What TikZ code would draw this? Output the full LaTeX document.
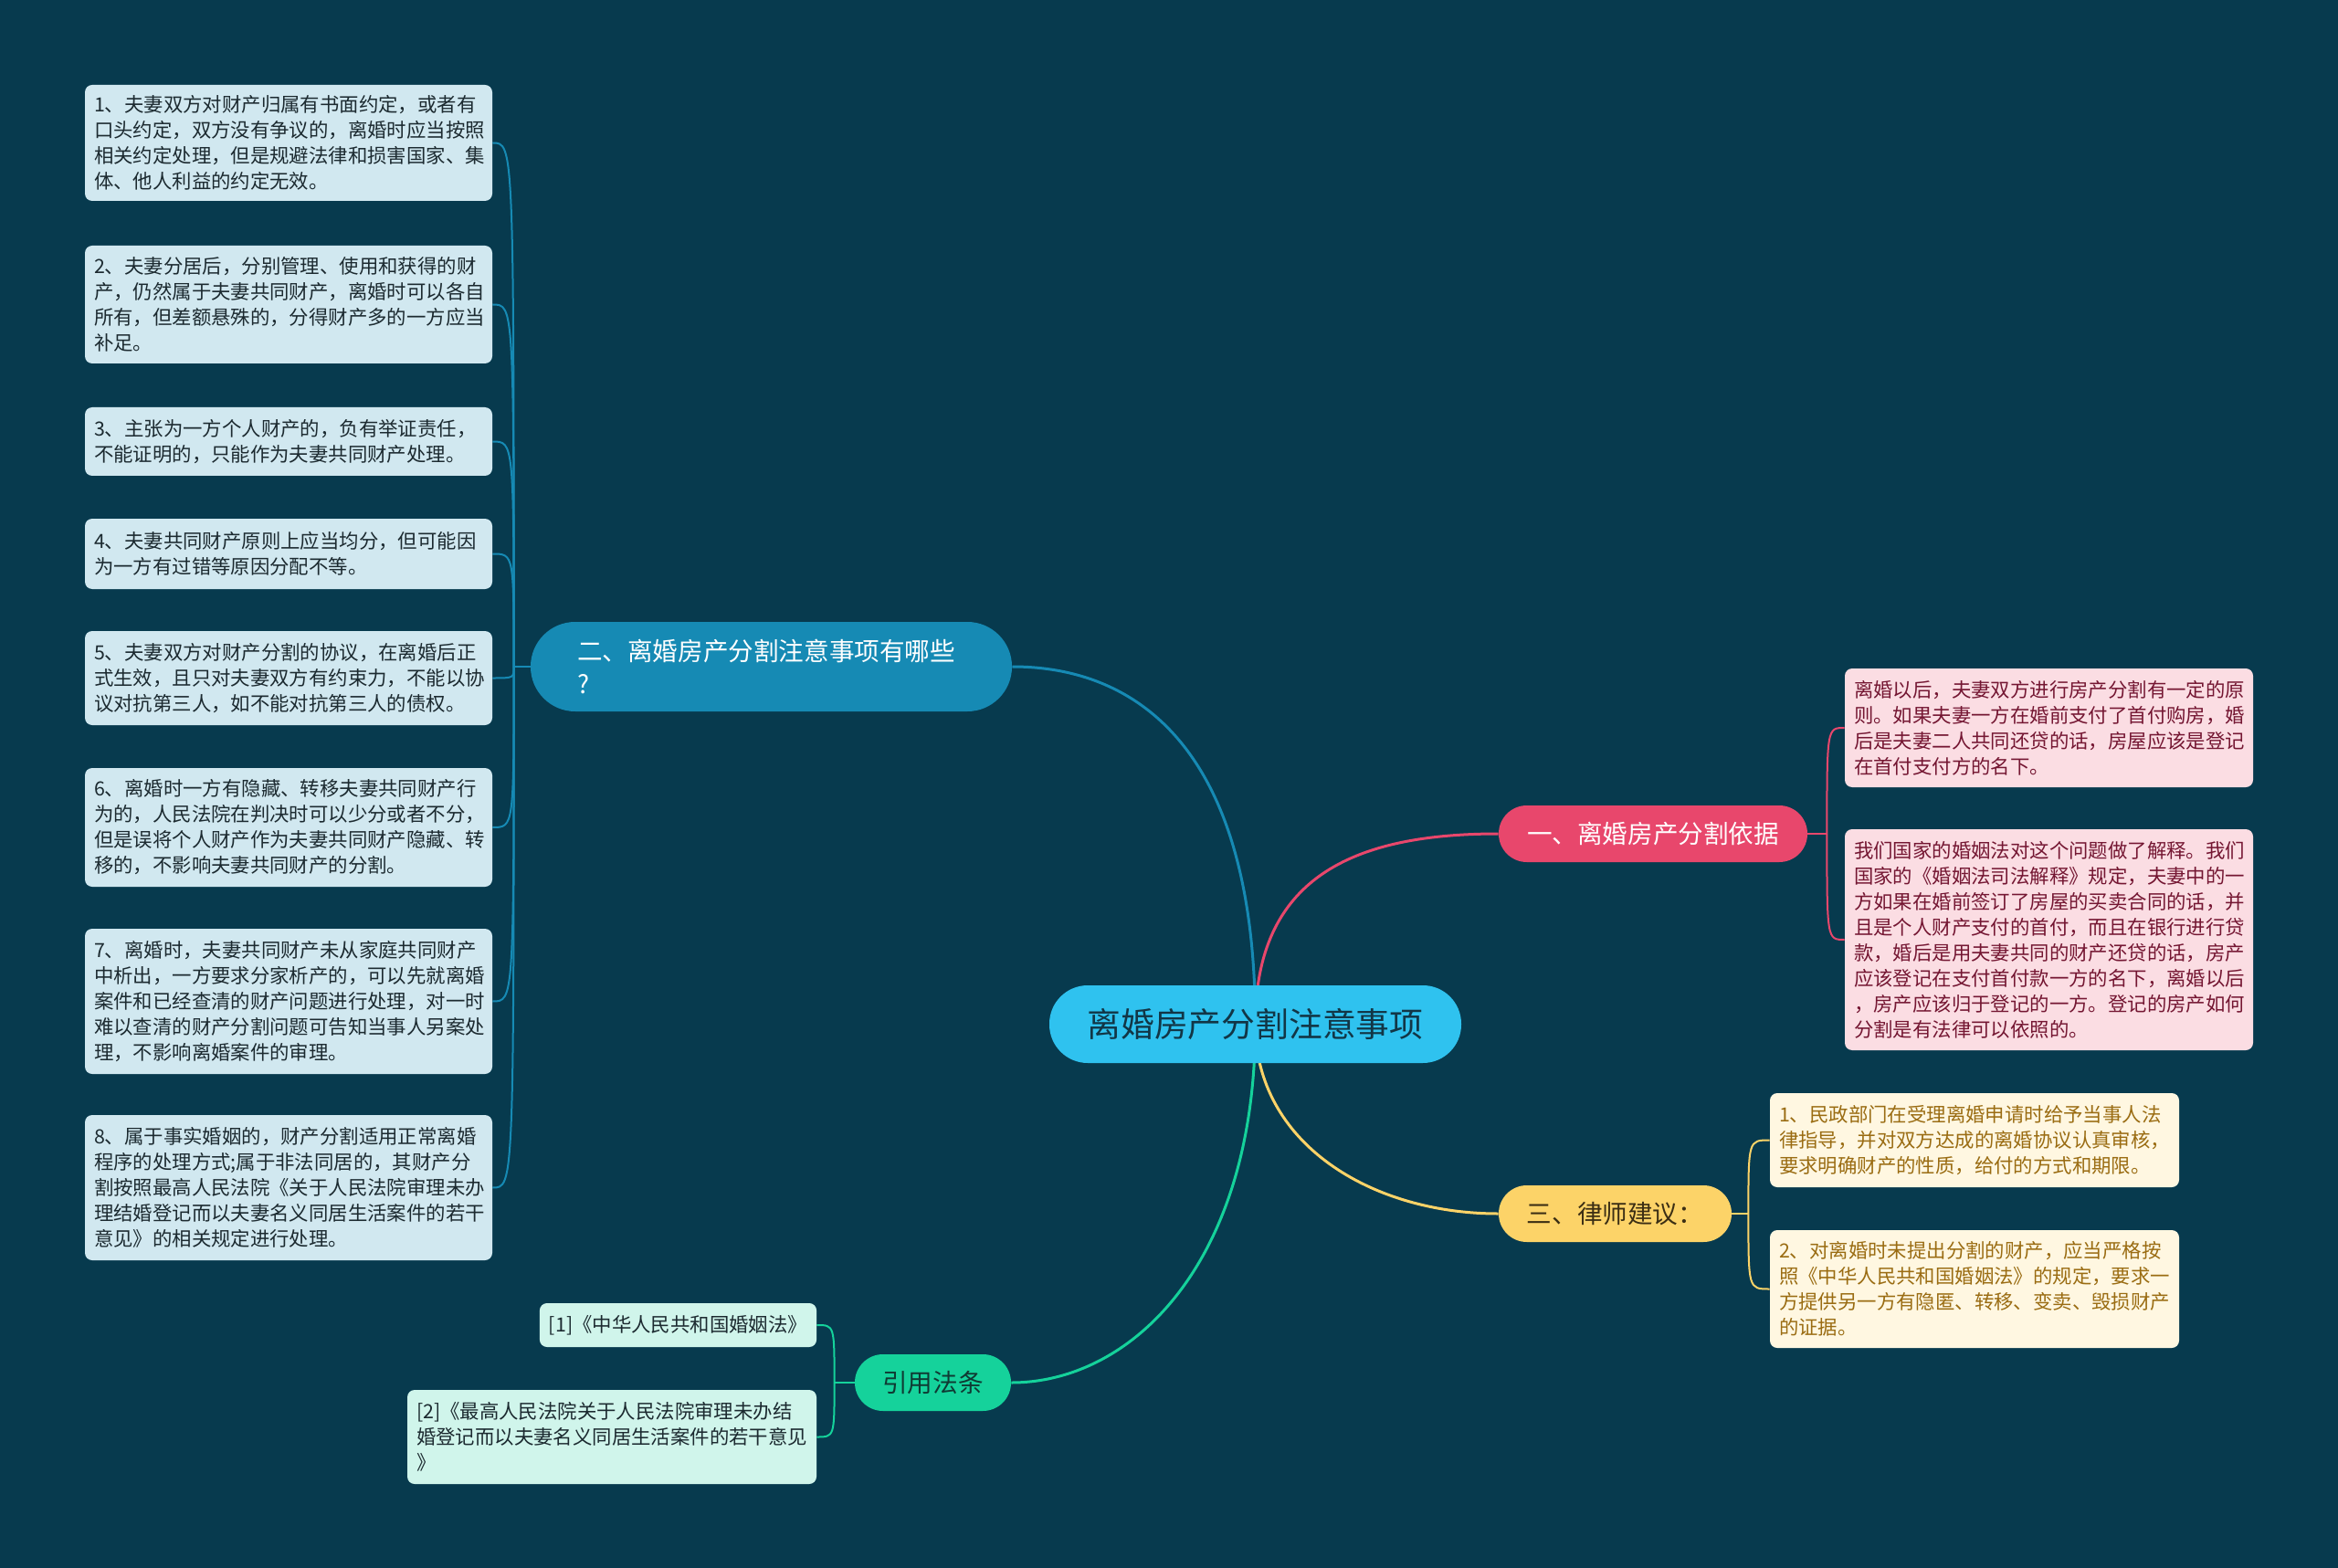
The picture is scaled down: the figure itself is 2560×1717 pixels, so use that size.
\documentclass[tikz,border=0pt]{standalone}
\usepackage{fontspec}
\setmainfont{Noto Sans CJK SC}
\usetikzlibrary{positioning,backgrounds}
\definecolor{bgc}{HTML}{073A4E}
\definecolor{hubfill}{HTML}{2FC2EF}
\definecolor{hubtext}{HTML}{123646}
\definecolor{qblue}{HTML}{168AB4}
\definecolor{qleaf}{HTML}{D1E8F0}
\definecolor{qtext}{HTML}{1C2A30}
\definecolor{pinkb}{HTML}{E8476C}
\definecolor{pinkleaf}{HTML}{FBDDE3}
\definecolor{pinktext}{HTML}{741632}
\definecolor{yellowb}{HTML}{FCD368}
\definecolor{yellowbt}{HTML}{3B2E14}
\definecolor{yellowleaf}{HTML}{FFF7E1}
\definecolor{goldtext}{HTML}{9A6C12}
\definecolor{greenb}{HTML}{15D29B}
\definecolor{greenbt}{HTML}{0F3A33}
\definecolor{greenleaf}{HTML}{D0F5EB}

\begin{document}
\begin{tikzpicture}[x=0.5pt,y=-0.5pt,
    link/.style={line width=1.5pt},
    twig/.style={line width=1pt},
    hub/.style={rounded corners=21pt,minimum width=225.5pt,minimum height=42.5pt,
      fill=hubfill,text=hubtext,font=\fontsize{18.4}{22}\selectfont},
    topic/.style={rounded corners=15.4pt,minimum height=31pt,font=\fontsize{13.8}{18}\selectfont},
    leaf/.style={rounded corners=4pt,align=left,inner xsep=5pt,font=\fontsize{10.7}{14}\selectfont},
    qbox/.style={leaf,fill=qleaf,text=qtext,text width=213pt},
    pbox/.style={leaf,fill=pinkleaf,text=pinktext,text width=213.5pt},
    ybox/.style={leaf,fill=yellowleaf,text=goldtext,text width=214pt},
    gbox/.style={leaf,fill=greenleaf,text=qtext}]
    \useasboundingbox (0,0) rectangle (2560,1717);
    \begin{scope}[on background layer]
      \fill[bgc] (0,0) rectangle (2560,1717);
    \end{scope}

    \node[hub] (hub) at (1374.5,1121.5) {离婚房产分割注意事项};

    \node[topic,fill=qblue,text=white,rounded corners=24.4pt,minimum height=49pt,
      align=left,text width=212.5pt,inner xsep=25.5pt] (ask) at (844.5,730)
      {二、离婚房产分割注意事项有哪些\\?};
    \node[topic,fill=pinkb,text=white,minimum width=169pt] (basis) at (1810,913) {一、离婚房产分割依据};
    \node[topic,fill=yellowb,text=yellowbt,minimum width=127.5pt] (advice) at (1768.5,1329) {三、律师建议：};
    \node[topic,fill=greenb,text=greenbt,minimum width=85.5pt] (laws) at (1021.5,1514) {引用法条};

    \node[qbox,minimum height=63.5pt] (n1) at (316,156.5) {1、夫妻双方对财产归属有书面约定，或者有\\口头约定，双方没有争议的，离婚时应当按照\\相关约定处理，但是规避法律和损害国家、集\\体、他人利益的约定无效。};
    \node[qbox,minimum height=64.5pt] (n2) at (316,333.5) {2、夫妻分居后，分别管理、使用和获得的财\\产，仍然属于夫妻共同财产，离婚时可以各自\\所有，但差额悬殊的，分得财产多的一方应当\\补足。};
    \node[qbox,minimum height=37.5pt] (n3) at (316,483.5) {3、主张为一方个人财产的，负有举证责任，\\不能证明的，只能作为夫妻共同财产处理。};
    \node[qbox,minimum height=38.5pt] (n4) at (316,606.5) {4、夫妻共同财产原则上应当均分，但可能因\\为一方有过错等原因分配不等。};
    \node[qbox,minimum height=51.5pt] (n5) at (316,742.5) {5、夫妻双方对财产分割的协议，在离婚后正\\式生效，且只对夫妻双方有约束力，不能以协\\议对抗第三人，如不能对抗第三人的债权。};
    \node[qbox,minimum height=65pt] (n6) at (316,906) {6、离婚时一方有隐藏、转移夫妻共同财产行\\为的，人民法院在判决时可以少分或者不分，\\但是误将个人财产作为夫妻共同财产隐藏、转\\移的，不影响夫妻共同财产的分割。};
    \node[qbox,minimum height=79.5pt] (n7) at (316,1096.5) {7、离婚时，夫妻共同财产未从家庭共同财产\\中析出，一方要求分家析产的，可以先就离婚\\案件和已经查清的财产问题进行处理，对一时\\难以查清的财产分割问题可告知当事人另案处\\理，不影响离婚案件的审理。};
    \node[qbox,minimum height=79.5pt] (n8) at (316,1300.5) {8、属于事实婚姻的，财产分割适用正常离婚\\程序的处理方式;属于非法同居的，其财产分\\割按照最高人民法院《关于人民法院审理未办\\理结婚登记而以夫妻名义同居生活案件的若干\\意见》的相关规定进行处理。};

    \node[pbox,minimum height=65pt] (basisA) at (2243.5,797) {离婚以后，夫妻双方进行房产分割有一定的原\\则。如果夫妻一方在婚前支付了首付购房，婚\\后是夫妻二人共同还贷的话，房屋应该是登记\\在首付支付方的名下。};
    \node[pbox,minimum height=121pt] (basisB) at (2243.5,1029) {我们国家的婚姻法对这个问题做了解释。我们\\国家的《婚姻法司法解释》规定，夫妻中的一\\方如果在婚前签订了房屋的买卖合同的话，并\\且是个人财产支付的首付，而且在银行进行贷\\款，婚后是用夫妻共同的财产还贷的话，房产\\应该登记在支付首付款一方的名下，离婚以后\\，房产应该归于登记的一方。登记的房产如何\\分割是有法律可以依照的。};

    \node[ybox,minimum height=51.5pt] (adviceA) at (2162,1248.5) {1、民政部门在受理离婚申请时给予当事人法\\律指导，并对双方达成的离婚协议认真审核，\\要求明确财产的性质，给付的方式和期限。};
    \node[ybox,minimum height=64.5pt] (adviceB) at (2162,1411.5) {2、对离婚时未提出分割的财产，应当严格按\\照《中华人民共和国婚姻法》的规定，要求一\\方提供另一方有隐匿、转移、变卖、毁损财产\\的证据。};

    \node[gbox,minimum width=151.5pt,minimum height=24pt] (lawA) at (742.5,1451) {[1]《中华人民共和国婚姻法》};
    \node[gbox,text width=214pt,minimum height=51.5pt] (lawB) at (670,1573.5) {[2]《最高人民法院关于人民法院审理未办结\\婚登记而以夫妻名义同居生活案件的若干意见\\》};

    \coordinate[left=9pt of ask.west] (askj);
    \coordinate[right=10.5pt of basis.east] (basisj);
    \coordinate[right=9pt of advice.east] (advicej);
    \coordinate[left=11pt of laws.west] (lawsj);

    \begin{scope}[on background layer]
      \draw[link,qblue] (hub.center) .. controls +(0,-305) and +(134,0) .. (ask.east);
      \draw[link,pinkb] (hub.center) .. controls +(0,-160) and +(-160,0) .. (basis.west);
      \draw[link,yellowb] (hub.center) .. controls +(0,130) and +(-140,0) .. (advice.west);
      \draw[link,greenb] (hub.center) .. controls +(0,260) and +(133,0) .. (laws.east);

      \draw[twig,qblue] (ask.west) -- (askj);
      \foreach \i in {1,...,8}
        \draw[twig,qblue] (askj) .. controls (askj |- n\i.east) .. (n\i.east);

      \draw[twig,pinkb] (basis.east) -- (basisj);
      \foreach \n in {basisA,basisB}
        \draw[twig,pinkb] (basisj) .. controls (basisj |- \n.west) .. (\n.west);

      \draw[twig,yellowb] (advice.east) -- (advicej);
      \foreach \n in {adviceA,adviceB}
        \draw[twig,yellowb] (advicej) .. controls (advicej |- \n.west) .. (\n.west);

      \draw[twig,greenb] (laws.west) -- (lawsj);
      \foreach \n in {lawA,lawB}
        \draw[twig,greenb] (lawsj) .. controls (lawsj |- \n.east) .. (\n.east);
    \end{scope}
  \end{tikzpicture}
\end{document}
